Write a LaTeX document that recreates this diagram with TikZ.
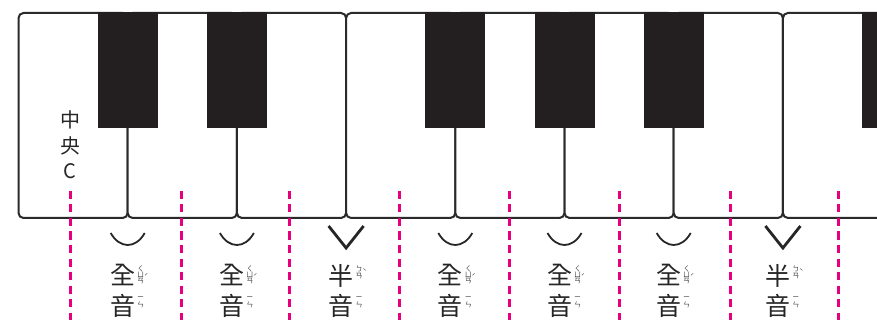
\documentclass[tikz,border=0pt]{standalone}
\usepackage{fontspec}
\setmainfont{Noto Sans CJK TC}
\definecolor{keyline}{HTML}{2A2A2A}
\definecolor{blackkey}{HTML}{231F20}
\definecolor{mag}{HTML}{E6007E}
\begin{document}
\begin{tikzpicture}[x=1pt,y=-1pt,
  whitekey/.style={draw=keyline,line width=2pt,rounded corners=5pt,fill=white},
  blackkeyfill/.style={fill=blackkey},
  dashline/.style={draw=mag,line width=3pt,dash pattern=on 8pt off 5.5pt},
  arcline/.style={draw=black!85,line width=1.8pt},
  vline/.style={draw=black!85,line width=2.8pt},
  bigc/.style={inner sep=0pt,font=\fontsize{25}{25}\selectfont,text=black!85},
  zhu/.style={inner sep=0pt,font=\fontsize{7}{7}\selectfont,text=black!80},
  midc/.style={inner sep=0pt,font=\fontsize{20}{20}\selectfont,text=black!85}]
\useasboundingbox (0,0) rectangle (877,320);
\clip (0,0) rectangle (877,320);
% white keys
\foreach \k in {0,...,7}
  \draw[whitekey] ({18.5+109.2*\k},13) rectangle ({18.5+109.2*(\k+1)},218);
% black keys
\foreach \k in {1,2,4,5,6,8}
  \fill[blackkeyfill] ({18.5+109.2*\k-30},12) rectangle ({18.5+109.2*\k+30},128);
% middle C label
\node[midc] (zh) at (70,120) {中};
\node[midc] (yang) at (70,146) {央};
\node[midc] (cc) at (70,171) {C};
% dashed lines
\foreach \x in {70,181,289,399,509,619,730,838}
  \draw[dashline] (\x,191) -- (\x,320);
% whole tones
\foreach \k in {1,2,4,5,6} {
  \pgfmathsetmacro{\b}{18.5+109.2*\k}
  \draw[arcline] (\b-17,233) .. controls (\b-8,249) and (\b+8,249) .. (\b+17,233);
  \node[bigc] (qa\k) at (\b-5,275) {全};
  \node[bigc] (qb\k) at (\b-5,306) {音};
  \node[zhu] (za\k) at (\b+13,269) {ㄑ};
  \node[zhu] (zb\k) at (\b+13,275) {ㄩ};
  \node[zhu] (zc\k) at (\b+13,281) {ㄢ};
  \node[zhu] (zt\k) at (\b+18.5,277) {ˊ};
  \node[zhu] (zd\k) at (\b+13,298) {ㄧ};
  \node[zhu] (ze\k) at (\b+13,305) {ㄣ};
}
% half tones
\foreach \k in {3,7} {
  \pgfmathsetmacro{\b}{18.5+109.2*\k}
  \draw[vline] (\b-17.5,226) -- (\b,248) -- (\b+17.5,226);
  \node[bigc] (ha\k) at (\b-5,276) {半};
  \node[bigc] (hb\k) at (\b-5,306) {音};
  \node[zhu] (ya\k) at (\b+13,269) {ㄅ};
  \node[zhu] (yb\k) at (\b+13,276) {ㄢ};
  \node[zhu] (yt\k) at (\b+18.5,272) {ˋ};
  \node[zhu] (yd\k) at (\b+13,298) {ㄧ};
  \node[zhu] (ye\k) at (\b+13,305) {ㄣ};
}
\end{tikzpicture}
\end{document}
